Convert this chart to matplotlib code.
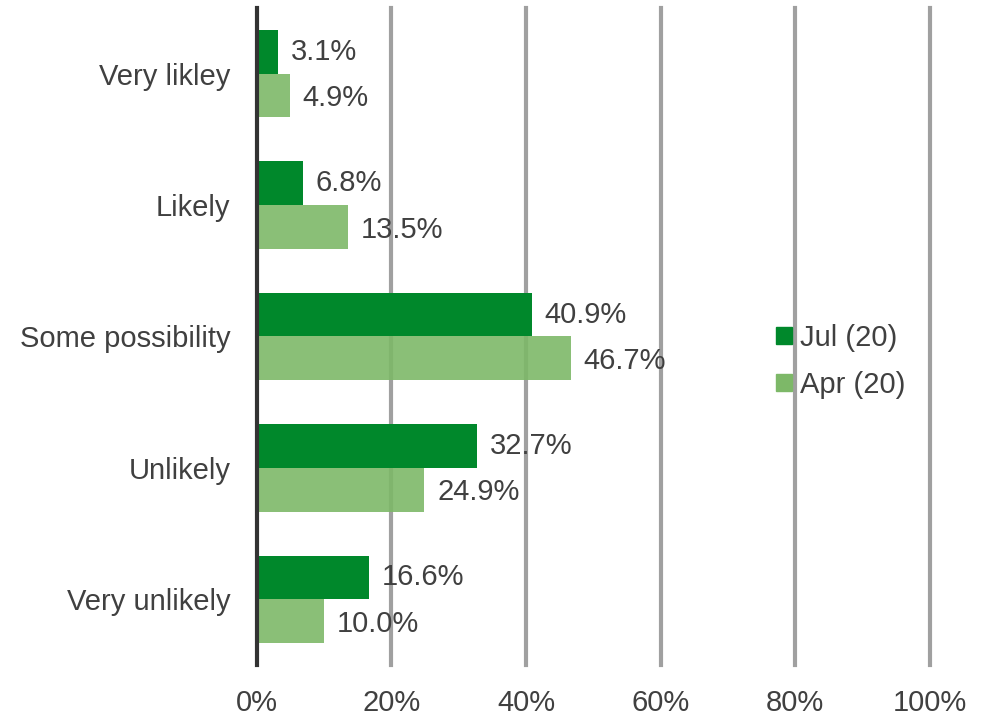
import numpy as np
import matplotlib.pyplot as plt
from matplotlib.patches import Patch

categories = ['Very likley', 'Likely', 'Some possibility', 'Unlikely', 'Very unlikely']
jul = [3.1, 6.8, 40.9, 32.7, 16.6]
apr = [4.9, 13.5, 46.7, 24.9, 10.0]
xticks = [0, 20, 40, 60, 80, 100]

darkGreen = '#00882B'
lightGreen = '#7DB868'
textColor = '#404040'

plt.rcParams['font.family'] = ['Liberation Sans', 'DejaVu Sans']

fig = plt.figure(figsize=(9.88, 7.19), dpi=100)
ax = fig.add_axes([0.260, 0.075, 0.681, 0.914])

y = np.arange(len(categories))
h = 0.333
ax.barh(y - h / 2, jul, height=h, color=darkGreen, zorder=3)
ax.barh(y + h / 2, apr, height=h, color=lightGreen, alpha=0.9, zorder=3)

fs = 21
for i in range(len(categories)):
    ax.text(jul[i] + 1.9, y[i] - h / 2, '%.1f%%' % jul[i], va='center', ha='left',
            fontsize=fs, color=textColor, zorder=4)
    ax.text(apr[i] + 1.9, y[i] + h / 2 + 0.02, '%.1f%%' % apr[i], va='center', ha='left',
            fontsize=fs, color=textColor, zorder=4)

ax.set_xlim(0, 100)
ax.set_ylim(len(categories) - 0.5, -0.5)
ax.set_yticks(y)
ax.set_yticklabels(categories, fontsize=fs, color=textColor)
ax.set_xticks(xticks)
ax.set_xticklabels(['%d%%' % t for t in xticks], fontsize=fs, color=textColor)
ax.tick_params(axis='both', length=0)
ax.tick_params(axis='x', pad=17)
ax.tick_params(axis='y', pad=19)

for t in xticks[1:]:
    ax.axvline(t, color='#A0A0A0', linewidth=3, zorder=1, clip_on=False)

for s in ['top', 'right', 'bottom']:
    ax.spines[s].set_visible(False)
ax.spines['left'].set_color('#333333')
ax.spines['left'].set_linewidth(3)
ax.spines['left'].set_zorder(5)

handles = [Patch(color=darkGreen, label='Jul (20)'), Patch(color=lightGreen, label='Apr (20)')]
leg = ax.legend(handles=handles, loc='center left', bbox_to_anchor=(0.733, 0.462),
                frameon=False, fontsize=fs, handlelength=0.55, handleheight=0.55,
                handletextpad=0.25, labelspacing=0.65)
for txt in leg.get_texts():
    txt.set_color(textColor)

plt.savefig('out.png', dpi=100)
